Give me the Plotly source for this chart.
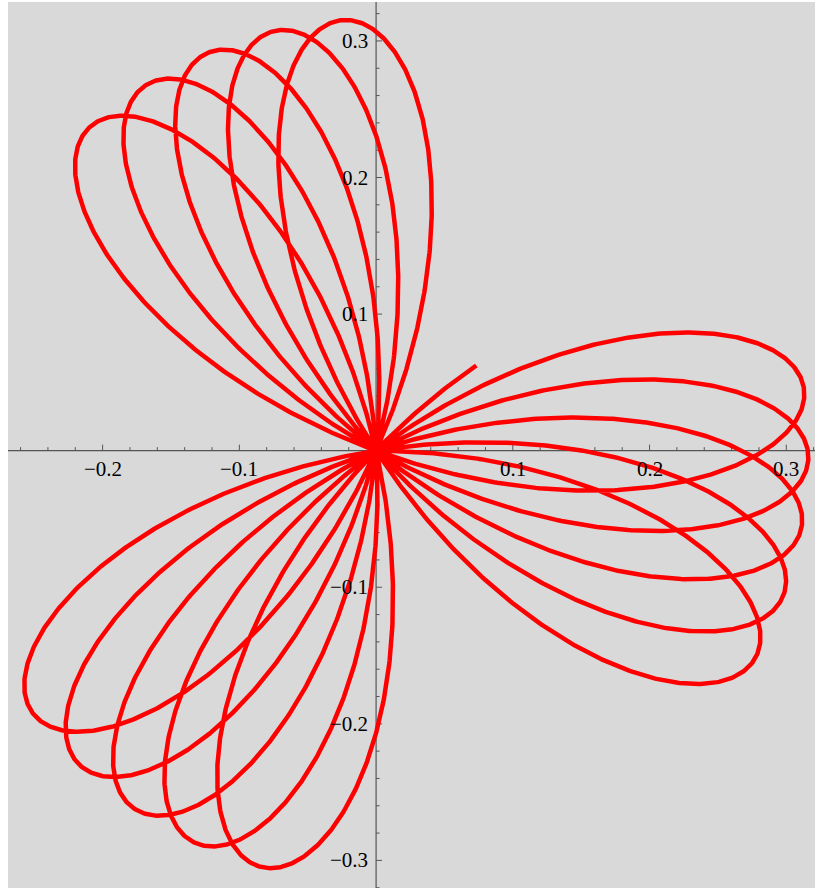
import numpy as np
import plotly.graph_objects as go

# ---- curve description (polar rose r = A*sin(K*theta), rotated) ----
AMPLITUDE = 0.3162
FREQ = 3.1623
ROTATION_DEG = -1.7
THETA_START = 3.876
THETA_END = 19 * np.pi / 3.1623
N_POINTS = 6000

# ---- axes / ticks ----
X_RANGE = [-0.2692, 0.3210]
Y_RANGE = [-0.3202, 0.3285]
X_MAJOR = [-0.2, -0.1, 0.1, 0.2, 0.3]
X_MAJOR_LABELS = ["\u22120.2", "\u22120.1", "0.1", "0.2", "0.3"]
Y_MAJOR = [-0.3, -0.2, -0.1, 0.1, 0.2, 0.3]
Y_MAJOR_LABELS = ["\u22120.3", "\u22120.2", "\u22120.1", "0.1", "0.2", "0.3"]
X_MINOR = [round(v, 2) for v in np.arange(-0.26, 0.321, 0.02)]
Y_MINOR = [round(v, 2) for v in np.arange(-0.32, 0.321, 0.02)]

theta = np.linspace(THETA_START, THETA_END, N_POINTS)
r = AMPLITUDE * np.sin(FREQ * theta)
phi = theta + np.deg2rad(ROTATION_DEG)
x = r * np.cos(phi)
y = r * np.sin(phi)

fig = go.Figure()
fig.add_trace(go.Scatter(x=x, y=y, mode="lines",
                         line=dict(color="#ff0000", width=4.5),
                         hoverinfo="skip", showlegend=False))

AXIS_COLOR = "#555555"
shapes = []
shapes.append(dict(type="line", xref="x", yref="y", x0=X_RANGE[0], x1=X_RANGE[1], y0=0, y1=0,
                   line=dict(color=AXIS_COLOR, width=1.2), layer="below"))
shapes.append(dict(type="line", xref="x", yref="y", x0=0, x1=0, y0=Y_RANGE[0], y1=Y_RANGE[1],
                   line=dict(color=AXIS_COLOR, width=1.2), layer="below"))
for v in X_MINOR:
    if abs(v) < 1e-9:
        continue
    L = 6 if any(abs(v - m) < 1e-9 for m in X_MAJOR) else 3.5
    shapes.append(dict(type="line", xref="x", yref="y", ysizemode="pixel", yanchor=0,
                       x0=v, x1=v, y0=0, y1=L,
                       line=dict(color=AXIS_COLOR, width=1), layer="below"))
for v in Y_MINOR:
    if abs(v) < 1e-9:
        continue
    L = 6 if any(abs(v - m) < 1e-9 for m in Y_MAJOR) else 3.5
    shapes.append(dict(type="line", xref="x", yref="y", xsizemode="pixel", xanchor=0,
                       y0=v, y1=v, x0=0, x1=L,
                       line=dict(color=AXIS_COLOR, width=1), layer="below"))

annotations = []
FONT = dict(family="Liberation Serif, Times New Roman, serif", size=21, color="black")
for v, lab in zip(X_MAJOR, X_MAJOR_LABELS):
    annotations.append(dict(x=v, y=0, xref="x", yref="y", text=lab, showarrow=False,
                            xanchor="center", yanchor="middle", yshift=-18, font=FONT))
for v, lab in zip(Y_MAJOR, Y_MAJOR_LABELS):
    annotations.append(dict(x=0, y=v, xref="x", yref="y", text=lab, showarrow=False,
                            xanchor="right", yanchor="middle", xshift=-6, font=FONT))

fig.update_layout(
    width=815, height=888,
    margin=dict(l=8, r=0, t=2, b=0),
    paper_bgcolor="white",
    plot_bgcolor="#d9d9d9",
    xaxis=dict(range=X_RANGE, visible=False, fixedrange=True),
    yaxis=dict(range=Y_RANGE, visible=False, fixedrange=True),
    shapes=shapes,
    annotations=annotations,
)

fig.write_html("out.html", config={"displayModeBar": False},
               post_script="document.body.style.margin='0px';document.body.style.overflow='hidden';")
